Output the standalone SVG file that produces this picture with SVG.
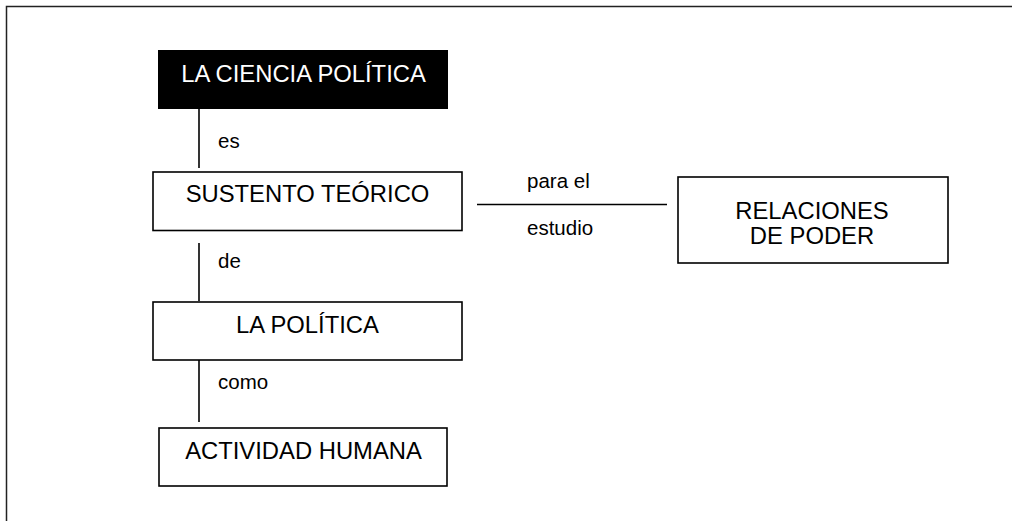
<svg xmlns="http://www.w3.org/2000/svg" width="1012" height="521" viewBox="0 0 1012 521">
<style>
.box{fill:#fff;stroke:#000;stroke-width:1.6}
.t{font-family:"Liberation Sans",Arial,sans-serif;font-size:23.8px;fill:#000;text-anchor:middle}
.lbl{font-family:"Liberation Sans",Arial,sans-serif;font-size:20.5px;fill:#000}
.c{stroke:#000;stroke-width:1.6;fill:none}
</style>
<rect width="1012" height="521" fill="#fff"/>
<path d="M6.5 521 V6.5 H1012" fill="none" stroke="#222" stroke-width="1.5"/>
<g id="connectors">
<line class="c" x1="199" y1="109" x2="199" y2="168"/>
<line class="c" x1="199" y1="243" x2="199" y2="301"/>
<line class="c" x1="199" y1="360" x2="199" y2="422"/>
<line class="c" x1="477" y1="204.5" x2="667" y2="204.5"/>
<text class="lbl" x="218" y="148">es</text>
<text class="lbl" x="218" y="268">de</text>
<text class="lbl" x="218" y="389">como</text>
<text class="lbl" x="527" y="188">para el</text>
<text class="lbl" x="527" y="235">estudio</text>
</g>
<g id="n1">
<rect x="158" y="50" width="290" height="59" fill="#000"/>
<text class="t" x="303.5" y="82" style="fill:#fff">LA CIENCIA POLÍTICA</text>
</g>
<g id="n2">
<rect class="box" x="153" y="172" width="309" height="58.5"/>
<text class="t" x="307.5" y="202">SUSTENTO TEÓRICO</text>
</g>
<g id="n3">
<rect class="box" x="678" y="177" width="270" height="86"/>
<text class="t" x="812" y="219">RELACIONES</text>
<text class="t" x="812" y="244">DE PODER</text>
</g>
<g id="n4">
<rect class="box" x="153" y="302" width="309" height="58"/>
<text class="t" x="307.5" y="333">LA POLÍTICA</text>
</g>
<g id="n5">
<rect class="box" x="159" y="428" width="288" height="58"/>
<text class="t" x="303.5" y="459">ACTIVIDAD HUMANA</text>
</g>
</svg>
